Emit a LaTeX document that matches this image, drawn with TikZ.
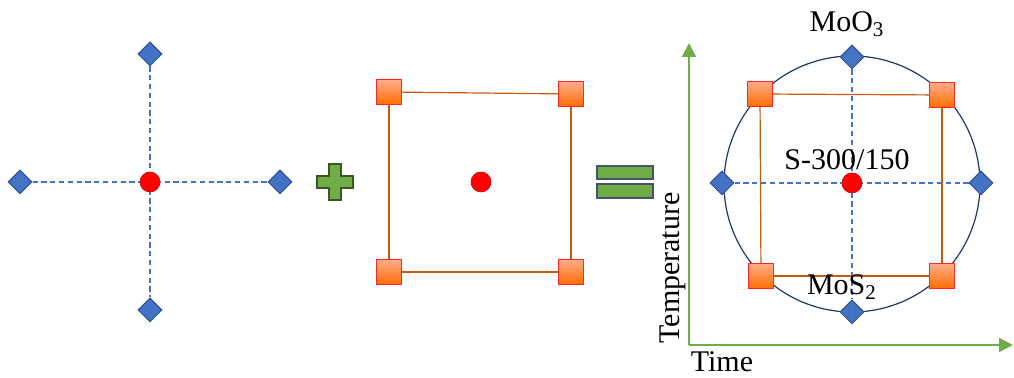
\documentclass[tikz,border=0pt]{standalone}
\usepackage{fontspec}
\setmainfont{Liberation Serif}
\usetikzlibrary{arrows.meta,positioning,backgrounds,shapes.geometric}
\definecolor{dia}{HTML}{4472C4}
\definecolor{diaedge}{HTML}{2F528F}
\definecolor{rust}{HTML}{C55A11}
\definecolor{navy}{HTML}{203864}
\definecolor{grass}{HTML}{70AD47}
\definecolor{moss}{HTML}{385723}
\definecolor{slate}{HTML}{44546A}

\begin{document}
\begin{tikzpicture}[
  x=0.5pt,
  y=-0.5pt,
  vertex/.style={diamond, draw=diaedge, fill=dia, line width=0.5pt, inner sep=0pt, minimum width=12pt, minimum height=12pt},
  corner/.style={rectangle, draw=red!85!white, top color=orange!55!red!45!white, bottom color=orange!85!red, line width=0.4pt, inner sep=0pt, minimum size=12.5pt},
  dot/.style={circle, draw=red!80!black, fill=red, line width=0.3pt, inner sep=0pt, minimum size=10pt},
  guide/.style={draw=dia, dash pattern=on 2.6pt off 1.8pt, line width=0.75pt},
  frame/.style={draw=rust, line width=0.6pt},
  axis/.style={draw=grass, line width=1pt, -{Triangle[length=7pt,width=7pt]}},
  lbl/.style={font=\fontsize{15}{18}\selectfont, inner sep=0pt}
]
  \useasboundingbox (0,0) rectangle (1014,378);

  % star of four diamonds
  \node[vertex] (an) at (150,54) {};
  \node[vertex] (as) at (150,310) {};
  \node[vertex] (aw) at (20,182) {};
  \node[vertex] (ae) at (280,182) {};
  \node[dot] (ac) at (150,182) {};

  % plus sign
  \draw[draw=moss, fill=grass, line width=0.6pt]
    (329,164) -- (341,164) -- (341,176) -- (353,176) -- (353,188) -- (341,188)
    -- (341,200) -- (329,200) -- (329,188) -- (317,188) -- (317,176) -- (329,176) -- cycle;

  % square of four corners
  \node[corner] (bnw) at (389,92) {};
  \node[corner] (bne) at (571,94) {};
  \node[corner] (bsw) at (389,272) {};
  \node[corner] (bse) at (571,272) {};
  \node[dot] (bc) at (481,182) {};

  % equals sign
  \draw[draw=slate, fill=grass, line width=0.6pt] (597,166) rectangle (653,179);
  \draw[draw=slate, fill=grass, line width=0.6pt] (597,184) rectangle (653,198);

  % combined design
  \node[circle, draw=navy, line width=0.6pt, minimum size=128pt, inner sep=0pt] (ring) at (852,184) {};
  \node[corner] (cnw) at (760,94) {};
  \node[corner] (cne) at (942,95) {};
  \node[corner] (csw) at (761,276) {};
  \node[corner] (cse) at (942,276) {};
  \node[vertex] (cn) at (852,57) {};
  \node[vertex] (cs) at (852,312) {};
  \node[vertex] (cw) at (722,183) {};
  \node[vertex] (ce) at (981,183) {};
  \node[dot] (cc) at (852,183) {};

  \node[lbl, anchor=base] (moo) at (847,32) {MoO\textsubscript{3}};
  \node[lbl, anchor=base] (run) at (847,170) {S-300/150};
  \node[lbl, anchor=base] (mos) at (842,295) {MoS\textsubscript{2}};

  % axes
  \coordinate (orig) at (689,345);
  \coordinate (ytip) at (689,43);
  \coordinate (xtip) at (1013,345);
  \draw[axis] (orig) -- (ytip);
  \draw[axis] (orig) -- (xtip);
  \node[lbl, anchor=base] (time) at (722,372) {Time};
  \node[lbl, anchor=base, rotate=90] (temp) at (679,268) {Temperature};

  \begin{scope}[on background layer]
    \draw[guide] (an) -- (as);
    \draw[guide] (aw) -- (ae);
    \draw[frame] (bnw) -- (bne);
    \draw[frame] (bne) -- (bse);
    \draw[frame] (bse) -- (bsw);
    \draw[frame] (bsw) -- (bnw);
    \draw[frame] (cnw) -- (cne);
    \draw[frame] (cne) -- (cse);
    \draw[frame] (cse) -- (csw);
    \draw[frame] (csw) -- (cnw);
    \draw[guide] (cn) -- (cs);
    \draw[guide] (cw) -- (ce);
  \end{scope}
\end{tikzpicture}
\end{document}
